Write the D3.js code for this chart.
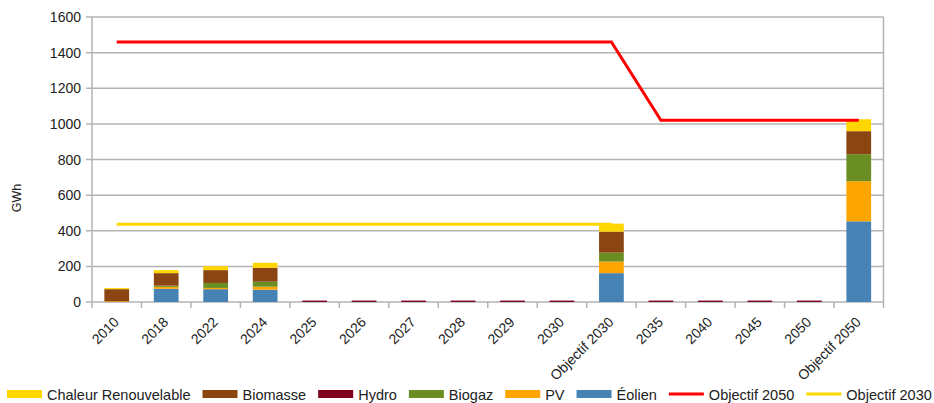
<!DOCTYPE html>
<html><head><meta charset="utf-8">
<script src="https://cdn.jsdelivr.net/npm/d3@7"></script>
<style>
body{margin:0;background:#fff;}
text{font-family:"Liberation Sans",Arial,sans-serif;fill:#222;}
</style></head>
<body><svg id="c" width="934" height="403"></svg>
<script>
const categories = ["2010","2018","2022","2024","2025","2026","2027","2028","2029","2030","Objectif 2030","2035","2040","2045","2050","Objectif 2050"];
const eolien   = [0, 74, 72, 69, 0,0,0,0,0,0, 162, 0,0,0,0, 453];
const pv       = [4, 11, 7, 17, 0,0,0,0,0,0, 65, 0,0,0,0, 225];
const biogaz   = [0, 7, 28, 28, 0,0,0,0,0,0, 50, 0,0,0,0, 152];
const hydro    = [0, 0, 0, 0, 8,8,8,8,8,8, 0, 8,8,8,8, 0];
const biomasse = [68, 70, 72, 78, 0,0,0,0,0,0, 118, 0,0,0,0, 129];
const chaleur  = [6, 17, 22, 28, 0,0,0,0,0,0, 45, 0,0,0,0, 67];
const objectif2050 = [1460,1460,1460,1460,1460,1460,1460,1460,1460,1460,1460,1020,1020,1020,1020,1020];
const objectif2030 = [437,437,437,437,437,437,437,437,437,437,437,null,null,null,null,null];
const yTicks = [0,200,400,600,800,1000,1200,1400,1600];

const seriesNames = ["Éolien","PV","Biogaz","Hydro","Biomasse","Chaleur Renouvelable"];
const seriesData = [eolien,pv,biogaz,hydro,biomasse,chaleur];
const colors = {"Éolien":"#4682b4","PV":"#ffa500","Biogaz":"#6b8e23","Hydro":"#800020","Biomasse":"#8b4513","Chaleur Renouvelable":"#ffd700"};

const svg = d3.select("#c");
const L=92, R=883.5, T=17, B=302;
const x = d3.scaleBand().domain(categories).range([L,R]).paddingInner(0.5).paddingOuter(0.25);
const xb = d3.scaleBand().domain(categories).range([L,R]);
const y = d3.scaleLinear().domain([0,1600]).range([B,T]);
const grid="#b3b3b3";

// gridlines
svg.append("g").selectAll("line").data(yTicks).join("line")
  .attr("x1",L-6).attr("x2",R).attr("y1",d=>y(d)).attr("y2",d=>y(d))
  .attr("stroke",grid).attr("stroke-width",1.5);
svg.append("line").attr("x1",L).attr("x2",L).attr("y1",T).attr("y2",B).attr("stroke",grid).attr("stroke-width",1.5);
svg.append("line").attr("x1",R).attr("x2",R).attr("y1",T).attr("y2",B).attr("stroke",grid).attr("stroke-width",1.5);
// x ticks at band boundaries
const bounds = categories.map(c=>xb(c)).concat([R]);
svg.append("g").selectAll("line").data(bounds).join("line")
  .attr("x1",d=>d).attr("x2",d=>d).attr("y1",B).attr("y2",B+6).attr("stroke",grid).attr("stroke-width",1.5);

// y labels
svg.append("g").selectAll("text").data(yTicks).join("text")
  .attr("x",L-11).attr("y",d=>y(d)+5).attr("text-anchor","end").attr("font-size",14).text(d=>d);
svg.append("text").attr("transform","translate(21,198) rotate(-90)").attr("text-anchor","middle").attr("font-size",12.5).text("GWh");

// stacks
const rows = categories.map((c,i)=>{const o={cat:c}; seriesNames.forEach((s,j)=>o[s]=seriesData[j][i]); return o;});
const stack = d3.stack().keys(seriesNames)(rows);
svg.append("g").selectAll("g").data(stack).join("g").attr("fill",d=>colors[d.key])
  .selectAll("rect").data(d=>d).join("rect")
  .attr("x",d=>x(d.data.cat)).attr("width",x.bandwidth())
  .attr("y",d=>y(d[1])).attr("height",d=>Math.max(0,y(d[0])-y(d[1])));

// x labels
svg.append("g").selectAll("text").data(categories).join("text")
  .attr("text-anchor","end").attr("font-size",14)
  .attr("transform",c=>`translate(${xb(c)+xb.bandwidth()/2+3},${B+21}) rotate(-45)`).text(c=>c);

// lines
const line = d3.line().defined(d=>d.v!=null).x(d=>xb(d.c)+xb.bandwidth()/2).y(d=>y(d.v));
svg.append("path").datum(categories.map((c,i)=>({c,v:objectif2030[i]})))
  .attr("d",line).attr("fill","none").attr("stroke","#ffd700").attr("stroke-width",3);
svg.append("path").datum(categories.map((c,i)=>({c,v:objectif2050[i]})))
  .attr("d",line).attr("fill","none").attr("stroke","#ff0000").attr("stroke-width",3);

// legend
const legendItems = [
 {n:"Chaleur Renouvelable",c:colors["Chaleur Renouvelable"],t:"r"},
 {n:"Biomasse",c:colors["Biomasse"],t:"r"},
 {n:"Hydro",c:colors["Hydro"],t:"r"},
 {n:"Biogaz",c:colors["Biogaz"],t:"r"},
 {n:"PV",c:colors["PV"],t:"r"},
 {n:"Éolien",c:colors["Éolien"],t:"r"},
 {n:"Objectif 2050",c:"#ff0000",t:"l"},
 {n:"Objectif 2030",c:"#ffd700",t:"l"}];
let lx=7; const ly=394;
const lg=svg.append("g");
legendItems.forEach(it=>{
  if(it.t==="r") lg.append("rect").attr("x",lx).attr("y",ly-4).attr("width",35).attr("height",8).attr("fill",it.c);
  else lg.append("line").attr("x1",lx).attr("x2",lx+35).attr("y1",ly).attr("y2",ly).attr("stroke",it.c).attr("stroke-width",3);
  const t=lg.append("text").attr("x",lx+40).attr("y",ly+5.5).attr("font-size",14.5).text(it.n);
  lx += 40 + t.node().getComputedTextLength() + 12;
});
</script></body></html>
